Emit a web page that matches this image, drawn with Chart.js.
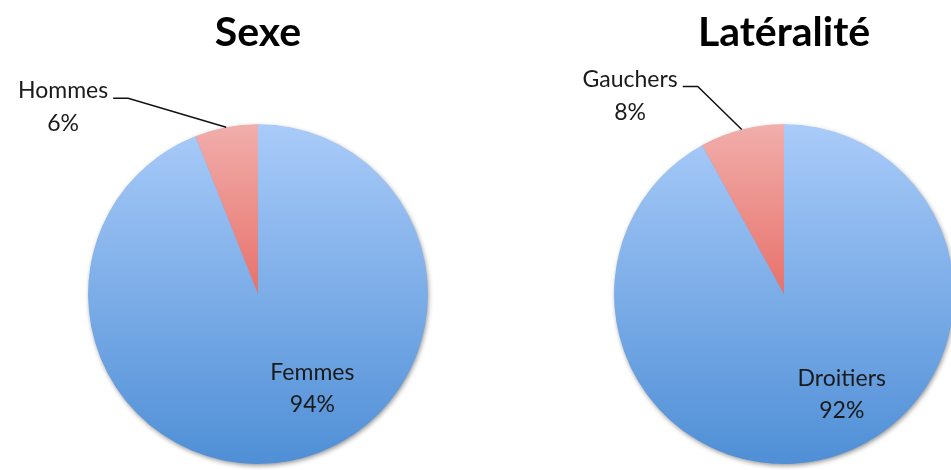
<!DOCTYPE html>
<html>
<head>
<meta charset="utf-8">
<script src="https://cdn.jsdelivr.net/npm/chart.js@4.4.1/dist/chart.umd.min.js"></script>
<style>
  html, body { margin: 0; padding: 0; background: #fff; overflow: hidden; }
  body { width: 951px; height: 470px; position: relative; }
  .box { position: absolute; top: 0; height: 470px; }
  #sexeBox { left: 0; width: 516px; }
  #latBox { left: 484px; width: 600px; }
</style>
</head>
<body>
<div class="box" id="sexeBox"><canvas id="sexeChart"></canvas></div>
<div class="box" id="latBox"><canvas id="latChart"></canvas></div>
<script>
const sexeLabels = ['Femmes', 'Hommes'];
const sexeValues = [94, 6];
const latLabels = ['Droitiers', 'Gauchers'];
const latValues = [92, 8];

const labelFont = '23px Lato';
const labelColor = '#1a1a1a';

// degradé vertical par part (comme Excel)
function sliceColor(ctx) {
  const area = ctx.chart.chartArea;
  if (!area) return '#8ab6ec';
  const c = ctx.chart.canvas.getContext('2d');
  const top = area.top;
  const mid = (area.top + area.bottom) / 2;
  if (ctx.dataIndex === 0) {
    const g = c.createLinearGradient(0, top, 0, area.bottom);
    g.addColorStop(0, '#a9cbf9');
    g.addColorStop(1, '#4f8fd6');
    return g;
  }
  const g = c.createLinearGradient(0, top, 0, mid);
  g.addColorStop(0, '#f1aeab');
  g.addColorStop(1, '#e8716a');
  return g;
}

// ombre sous le disque
const shadowPlugin = {
  id: 'pieShadow',
  beforeDatasetsDraw(chart) {
    const arc = chart.getDatasetMeta(0).data[0];
    if (!arc) return;
    const ctx = chart.ctx;
    ctx.save();
    ctx.shadowColor = 'rgba(0,0,0,0.45)';
    ctx.shadowBlur = 5;
    ctx.shadowOffsetX = 1;
    ctx.shadowOffsetY = 2;
    ctx.fillStyle = '#6fa3e2';
    ctx.beginPath();
    ctx.arc(arc.x, arc.y, arc.outerRadius - 0.5, 0, Math.PI * 2);
    ctx.fill();
    ctx.restore();
  }
};

// étiquettes : nom + pourcentage
const labelPlugin = {
  id: 'sliceLabels',
  afterDatasetsDraw(chart, args, opts) {
    const ctx = chart.ctx;
    const ds = chart.data.datasets[0];
    const total = ds.data.reduce((a, b) => a + b, 0);
    const arcs = chart.getDatasetMeta(0).data;
    ctx.save();
    ctx.font = labelFont;
    ctx.fillStyle = labelColor;
    ctx.textAlign = 'center';
    ctx.textBaseline = 'alphabetic';
    arcs.forEach((arc, i) => {
      const name = chart.data.labels[i];
      const pct = Math.round(ds.data[i] / total * 100) + '%';
      const R = arc.outerRadius;
      if (ds.data[i] / total > 0.15) {
        const a = opts.insideAngle * Math.PI / 180;
        const cx = arc.x + Math.cos(a) * R * opts.insideRadius;
        const cy = arc.y + Math.sin(a) * R * opts.insideRadius;
        ctx.fillText(name, cx, cy - 8);
        ctx.fillText(pct, cx, cy + 24);
      } else {
        const mid = (arc.startAngle + arc.endAngle) / 2;
        const ex = arc.x + Math.cos(mid) * R;
        const ey = arc.y + Math.sin(mid) * R;
        const bx = ex + opts.elbow[0];
        const by = ey + opts.elbow[1];
        ctx.strokeStyle = '#111';
        ctx.lineWidth = 1.5;
        ctx.beginPath();
        ctx.moveTo(ex, ey);
        ctx.lineTo(bx, by);
        ctx.lineTo(bx - 15, by);
        ctx.stroke();
        const w = ctx.measureText(name).width;
        const tx = bx - 20 - w / 2;
        ctx.fillText(name, tx, by);
        ctx.fillText(pct, tx, by + 33);
      }
    });
    ctx.restore();
  }
};

function makePie(id, title, labels, values, labelOpts) {
  new Chart(document.getElementById(id), {
    type: 'pie',
    data: {
      labels: labels,
      datasets: [{
        data: values,
        backgroundColor: sliceColor,
        borderWidth: 0,
        hoverOffset: 0,
        offset: 0
      }]
    },
    options: {
      responsive: true,
      maintainAspectRatio: false,
      animation: false,
      layout: { padding: { top: 0, bottom: 6, left: 0, right: 0 } },
      plugins: {
        legend: { display: false },
        tooltip: { enabled: false },
        title: {
          display: true,
          text: title,
          color: '#000',
          font: { family: 'Lato', size: 41, weight: 'bold', lineHeight: 1.2 },
          padding: { top: 8, bottom: 67 }
        },
        sliceLabels: labelOpts
      }
    },
    plugins: [shadowPlugin, labelPlugin]
  });
}

makePie('sexeChart', 'Sexe', sexeLabels, sexeValues,
  { insideAngle: 60, insideRadius: 0.64, elbow: [-98, -29] });
makePie('latChart', 'Latéralité', latLabels, latValues,
  { insideAngle: 60, insideRadius: 0.68, elbow: [-44, -43] });
</script>
</body>
</html>
